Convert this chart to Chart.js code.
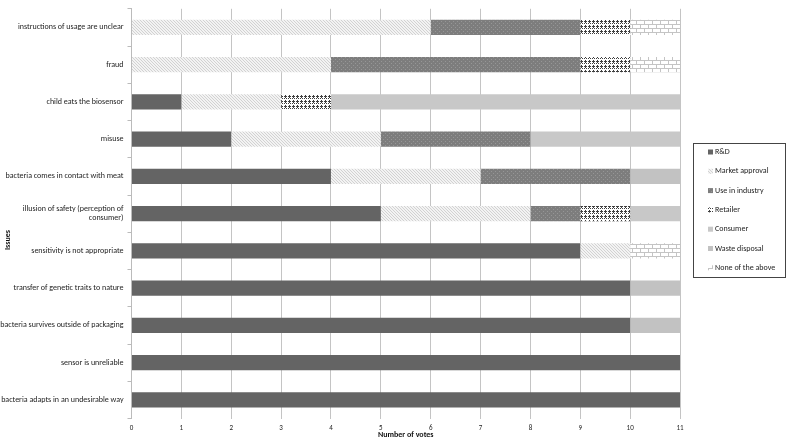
<!DOCTYPE html>
<html>
<head>
<meta charset="utf-8">
<script src="https://cdn.jsdelivr.net/npm/chart.js@4"></script>
<style>
  html, body { margin: 0; padding: 0; background: #fff; }
  #wrap { width: 789px; height: 440px; }
</style>
</head>
<body>
<div id="wrap"><canvas id="issuesChart"></canvas></div>
<script>
const issues = [
  'instructions of usage are unclear',
  'fraud',
  'child eats the biosensor',
  'misuse',
  'bacteria comes in contact with meat',
  ['illusion of safety (perception of', 'consumer)'],
  'sensitivity is not appropriate',
  'transfer of genetic traits to nature',
  'bacteria survives outside of packaging',
  'sensor is unreliable',
  'bacteria adapts in an undesirable way'
];
const seriesNames = ['R&D', 'Market approval', 'Use in industry', 'Retailer', 'Consumer', 'Waste disposal', 'None of the above'];
const rnd       = [0, 0, 1, 2, 4, 5, 9, 10, 10, 11, 11];
const market    = [6, 4, 2, 3, 3, 3, 1, 0, 0, 0, 0];
const industry  = [3, 5, 0, 3, 3, 1, 0, 0, 0, 0, 0];
const retailer  = [1, 1, 1, 0, 0, 1, 0, 0, 0, 0, 0];
const consumer  = [0, 0, 7, 3, 0, 1, 0, 0, 0, 0, 0];
const waste     = [0, 0, 0, 0, 1, 0, 0, 1, 1, 0, 0];
const noneAbove = [1, 1, 0, 0, 0, 0, 1, 0, 0, 0, 0];
const voteTicks = [0, 1, 2, 3, 4, 5, 6, 7, 8, 9, 10, 11];

const FONT = 'Carlito, Lato, sans-serif';

// small tile patterns, roughly like the office fill textures
function tile(w, h, bg, fg, pixels) {
  const c = document.createElement('canvas');
  c.width = w; c.height = h;
  const x = c.getContext('2d');
  x.fillStyle = bg;
  x.fillRect(0, 0, w, h);
  x.fillStyle = fg;
  pixels.forEach(p => x.fillRect(p[0], p[1], 1, 1));
  return x.createPattern(c, 'repeat');
}
const ctx = document.getElementById('issuesChart').getContext('2d');

const fills = [
  '#646464',
  tile(3, 3, '#f3f3f3', '#d2d2d2', [[0, 0], [1, 1], [2, 2]]),
  tile(4, 4, '#7d7d7d', '#969696', [[1, 1], [3, 3]]),
  tile(4, 5, '#ffffff', '#3f3f3f', [[1, 0], [0, 1], [1, 1], [2, 1], [1, 2], [0, 3], [2, 3]]),
  '#c8c8c8',
  '#c2c2c2',
  tile(8, 8, '#ffffff', '#c4c4c4', [
    [0, 0], [1, 0], [2, 0], [3, 0], [4, 0], [5, 0], [6, 0], [7, 0],
    [0, 4], [1, 4], [2, 4], [3, 4], [4, 4], [5, 4], [6, 4], [7, 4],
    [0, 1], [0, 2], [0, 3], [4, 5], [4, 6], [4, 7]
  ])
];
const values = [rnd, market, industry, retailer, consumer, waste, noneAbove];

const frameLegend = {
  id: 'frameLegend',
  afterDraw(chart) {
    const c = chart.ctx;
    c.save();
    // legend box
    c.strokeStyle = '#444';
    c.lineWidth = 1;
    c.strokeRect(693.5, 143.5, 92, 134);
    c.font = '8px ' + FONT;
    c.textBaseline = 'middle';
    chart.data.datasets.forEach((ds, i) => {
      const y = 152 + i * 19.3;
      c.fillStyle = ds.backgroundColor;
      c.fillRect(708, y - 2.5, 5, 5);
      c.fillStyle = '#222';
      c.fillText(ds.label, 715, y);
    });
    // y axis title
    c.translate(8, 240);
    c.rotate(-Math.PI / 2);
    c.textAlign = 'center';
    c.font = 'bold 8px ' + FONT;
    c.fillStyle = '#111';
    c.fillText('Issues', 0, 0);
    c.restore();
  }
};

new Chart(ctx, {
  type: 'bar',
  data: {
    labels: issues,
    datasets: seriesNames.map((name, i) => ({
      label: name,
      data: values[i],
      backgroundColor: fills[i],
      borderWidth: 0,
      barPercentage: 0.41,
      categoryPercentage: 1
    }))
  },
  options: {
    indexAxis: 'y',
    responsive: true,
    maintainAspectRatio: false,
    animation: false,
    layout: { padding: { top: 1, right: 109, left: 0, bottom: 0 } },
    scales: {
      x: {
        stacked: true,
        min: 0,
        max: 11,
        afterBuildTicks: s => { s.ticks = voteTicks.map(v => ({ value: v })); },
        afterFit: s => { s.height = 21.5; },
        grid: { color: '#c4c4c4', drawTicks: false },
        border: { display: false },
        ticks: { padding: 6, color: '#222', font: { family: FONT, size: 7 } },
        title: {
          display: true,
          text: 'Number of votes',
          color: '#111',
          padding: { top: 0, bottom: 0 },
          font: { family: FONT, size: 8, weight: 'bold' }
        }
      },
      y: {
        stacked: true,
        afterFit: s => { s.width = 131.5; },
        grid: { drawOnChartArea: false, color: '#bbb', tickLength: 4, offset: true },
        border: { color: '#bbb' },
        ticks: { padding: 4, color: '#222', font: { family: FONT, size: 8 } }
      }
    },
    plugins: {
      legend: { display: false },
      tooltip: { enabled: false }
    }
  },
  plugins: [frameLegend]
});
</script>
</body>
</html>
